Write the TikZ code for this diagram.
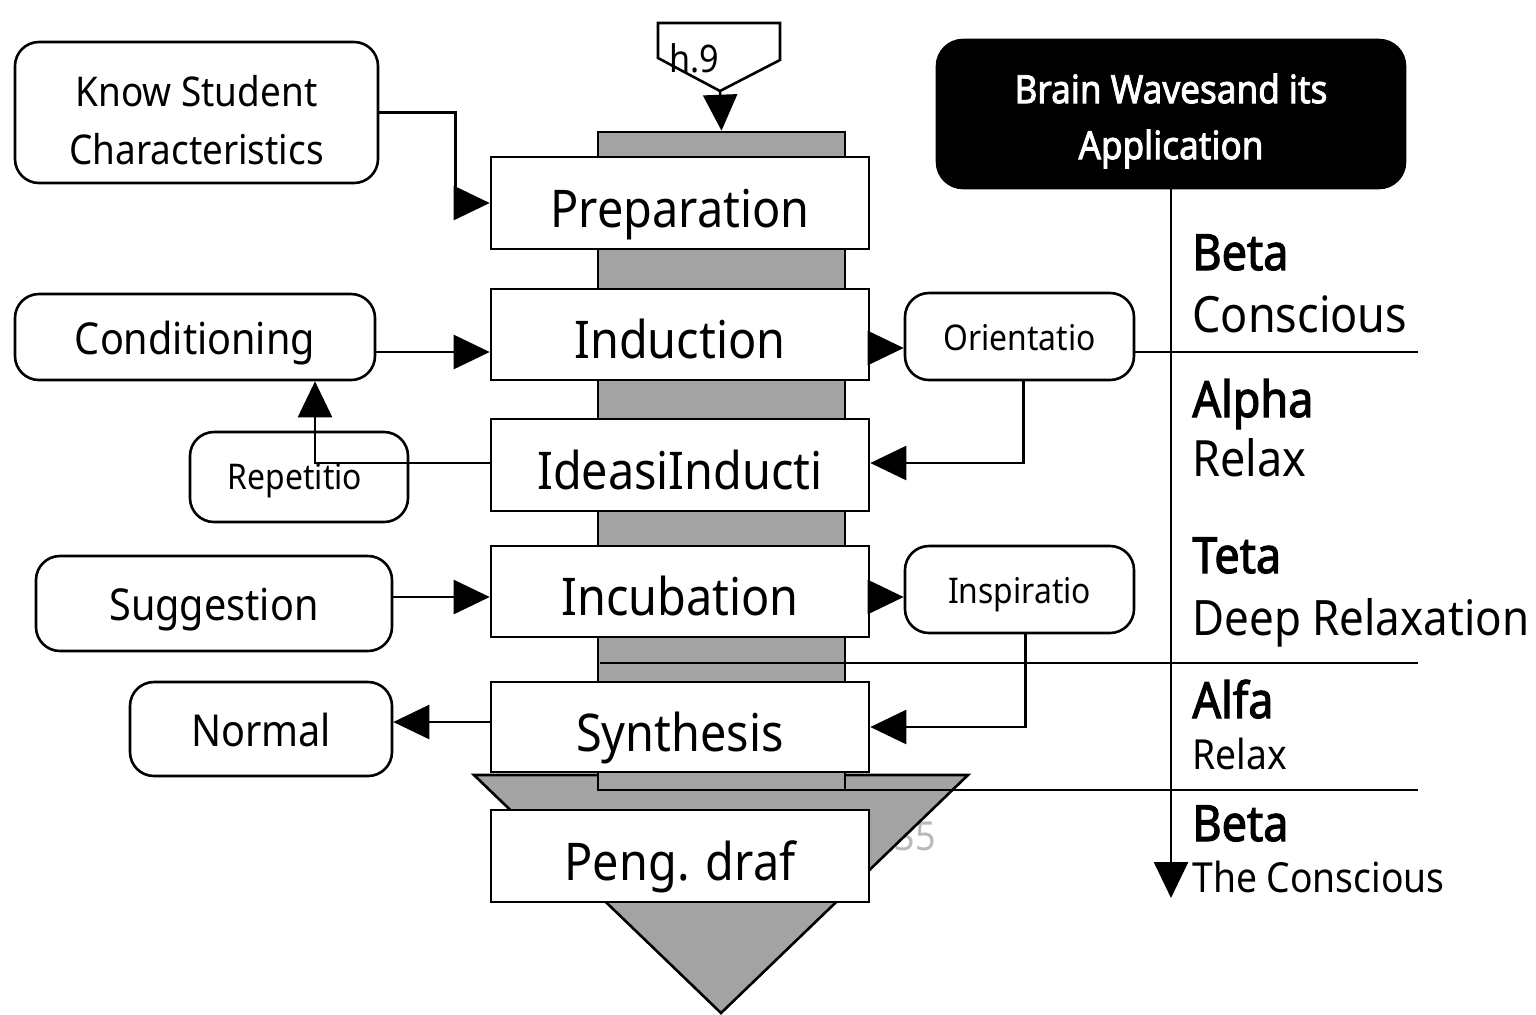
\documentclass[tikz,border=0pt]{standalone}
\usepackage{fontspec}
\setmainfont[FakeStretch=0.9,BoldFont={Noto Sans},BoldFeatures={FakeBold=2.2}]{Noto Sans}
\usetikzlibrary{arrows.meta}
\definecolor{colgray}{RGB}{163,163,163}
\definecolor{pagegray}{RGB}{185,185,185}
\begin{document}
\begin{tikzpicture}[x=0.5pt,y=-0.5pt,
  lw/.style={line width=1.3pt},
  arr/.style={lw,-{Triangle[length=18pt,width=17pt]}},
  stage/.style={draw,lw,fill=white,minimum width=189pt,minimum height=46pt,inner sep=0pt,
    text height=29pt,text depth=5pt,font=\fontsize{26}{30}\selectfont},
  rbox/.style={draw,lw,fill=white,rounded corners=12pt,inner sep=0pt},
  big/.style={font=\fontsize{22}{26}\selectfont,text height=21pt,text depth=4pt},
  small/.style={font=\fontsize{17.7}{21}\selectfont,text height=17pt,text depth=3.5pt},
  wave/.style={anchor=base west,inner sep=0pt,font=\fontsize{25}{29}\selectfont\bfseries},
  wavesub/.style={anchor=base west,inner sep=0pt,font=\fontsize{25}{29}\selectfont},
  wavesmall/.style={anchor=base west,inner sep=0pt,font=\fontsize{20.7}{24}\selectfont},
  sepline/.style={lw}
]
\useasboundingbox (0,0) rectangle (1536,1014);

% page number residue
\node[text=pagegray,font=\fontsize{20}{24}\selectfont,anchor=east,inner sep=0pt] (pnum) at (936,836) {35};

% big inverted triangle
\draw[lw,fill=colgray] (474,775) -- (968,775) -- (721,1013) -- cycle;

% gray column
\node[draw,lw,fill=colgray,minimum width=123.5pt,minimum height=329pt,inner sep=0pt] (col) at (721.5,461) {};

% separator lines
\coordinate (l2a) at (600,663);
\coordinate (l2b) at (1418,663);
\coordinate (l3a) at (600,790);
\coordinate (l3b) at (1418,790);
\draw[sepline] (l2a) -- (l2b);
\draw[sepline] (l3a) -- (l3b);

% stages
\node[stage] (prep) at (680,203) {Preparation};
\node[stage,minimum height=45.5pt] (ind) at (680,334.5) {Induction};
\node[stage] (idea) at (680,465) {IdeasiInducti};
\node[stage,minimum height=45.5pt] (incu) at (680,591.5) {Incubation};
\node[stage,minimum height=45pt] (syn) at (680,727) {Synthesis};
\node[stage] (peng) at (680,856) {Peng. draf};

% left boxes
\node[rbox,minimum width=181.5pt,minimum height=70.5pt] (know) at (196.5,112.5) {};
\node[align=center,inner sep=0pt,font=\fontsize{20.5}{29}\selectfont] (knowtext) at (196.5,120) {Know Student\\Characteristics};
\node[rbox,big,minimum width=180pt,minimum height=43pt] (cond) at (195,337) {Conditioning};
\node[rbox,small,minimum width=109pt,minimum height=45pt] (rep) at (299,477) {};
\node[font=\fontsize{17.7}{21}\selectfont,inner sep=0pt] (reptext) at (295,481) {Repetitio};
\node[rbox,big,minimum width=178pt,minimum height=47.5pt] (sugg) at (214,603.5) {Suggestion};
\node[rbox,big,minimum width=131pt,minimum height=47pt] (norm) at (261,729) {Normal};

% right boxes
\node[rbox,small,minimum width=114.5pt,minimum height=43.5pt] (ori) at (1019.5,336.5) {Orientatio};
\node[rbox,small,minimum width=114.5pt,minimum height=43.5pt] (insp) at (1019.5,589.5) {Inspiratio};

% brain waves header
\node[draw,lw,fill=black,rounded corners=13pt,minimum width=234pt,minimum height=74pt] (brain) at (1171,114) {};
\node[text=white,align=center,inner sep=0pt,font=\fontsize{19.5}{28}\selectfont\bfseries] (braintext) at (1171,121) {Brain Wavesand its\\Application};

\coordinate (l1b) at (1418,352);
\coordinate (l1y) at (0,352);
\draw[sepline] (ori.east |- l1y) -- (l1b);

\coordinate (waveend) at (1171,898);
\draw[arr] (brain.south) -- (waveend);

% connectors
\coordinate (yA) at (0,352);
\coordinate (yB) at (0,348);
\coordinate (yC) at (0,597);
\coordinate (yD) at (0,722);
\draw[arr] (know.east) -- ++(76,0) |- (prep.west);
\draw[arr] (cond.east |- yA) -- (ind.west |- yA);
\draw[arr] (ind.east |- yB) -- (ori.west |- yB);
\draw[arr] ([xshift=2pt]ori.south) |- ([yshift=1pt]idea.east);
\draw[arr] ([yshift=1pt]idea.west) -| ([xshift=60pt]cond.south);
\draw[arr] (sugg.east |- yC) -- (incu.west |- yC);
\draw[arr] (incu.east |- yC) -- (insp.west |- yC);
\draw[arr] ([xshift=3pt]insp.south) |- (syn.east);
\draw[arr] (syn.west |- yD) -- (norm.east |- yD);

% h.9 marker
\draw[lw,fill=white] (658,23) -- (780,23) -- (780,60) -- (720,91) -- (658,58) -- cycle;
\coordinate (h9tip) at (720,91);
\node[font=\fontsize{19}{22}\selectfont,inner sep=0pt] (h9) at (694,58) {h.9};
\draw[arr] (h9tip) -- (col.north);

% wave labels
\node[wave] (w1) at (1192,270) {Beta};
\node[wavesub] (w1s) at (1192,332) {Conscious};
\node[wave] (w2) at (1192,417) {Alpha};
\node[wavesub] (w2s) at (1192,476) {Relax};
\node[wave] (w3) at (1192,573) {Teta};
\node[wavesub,font=\fontsize{24.4}{29}\selectfont] (w3s) at (1192,635) {Deep Relaxation};
\node[wave] (w4) at (1192,718) {Alfa};
\node[wavesmall] (w4s) at (1192,769) {Relax};
\node[wave] (w5) at (1192,841) {Beta};
\node[wavesmall] (w5s) at (1192,892) {The Conscious};
\end{tikzpicture}
\end{document}
